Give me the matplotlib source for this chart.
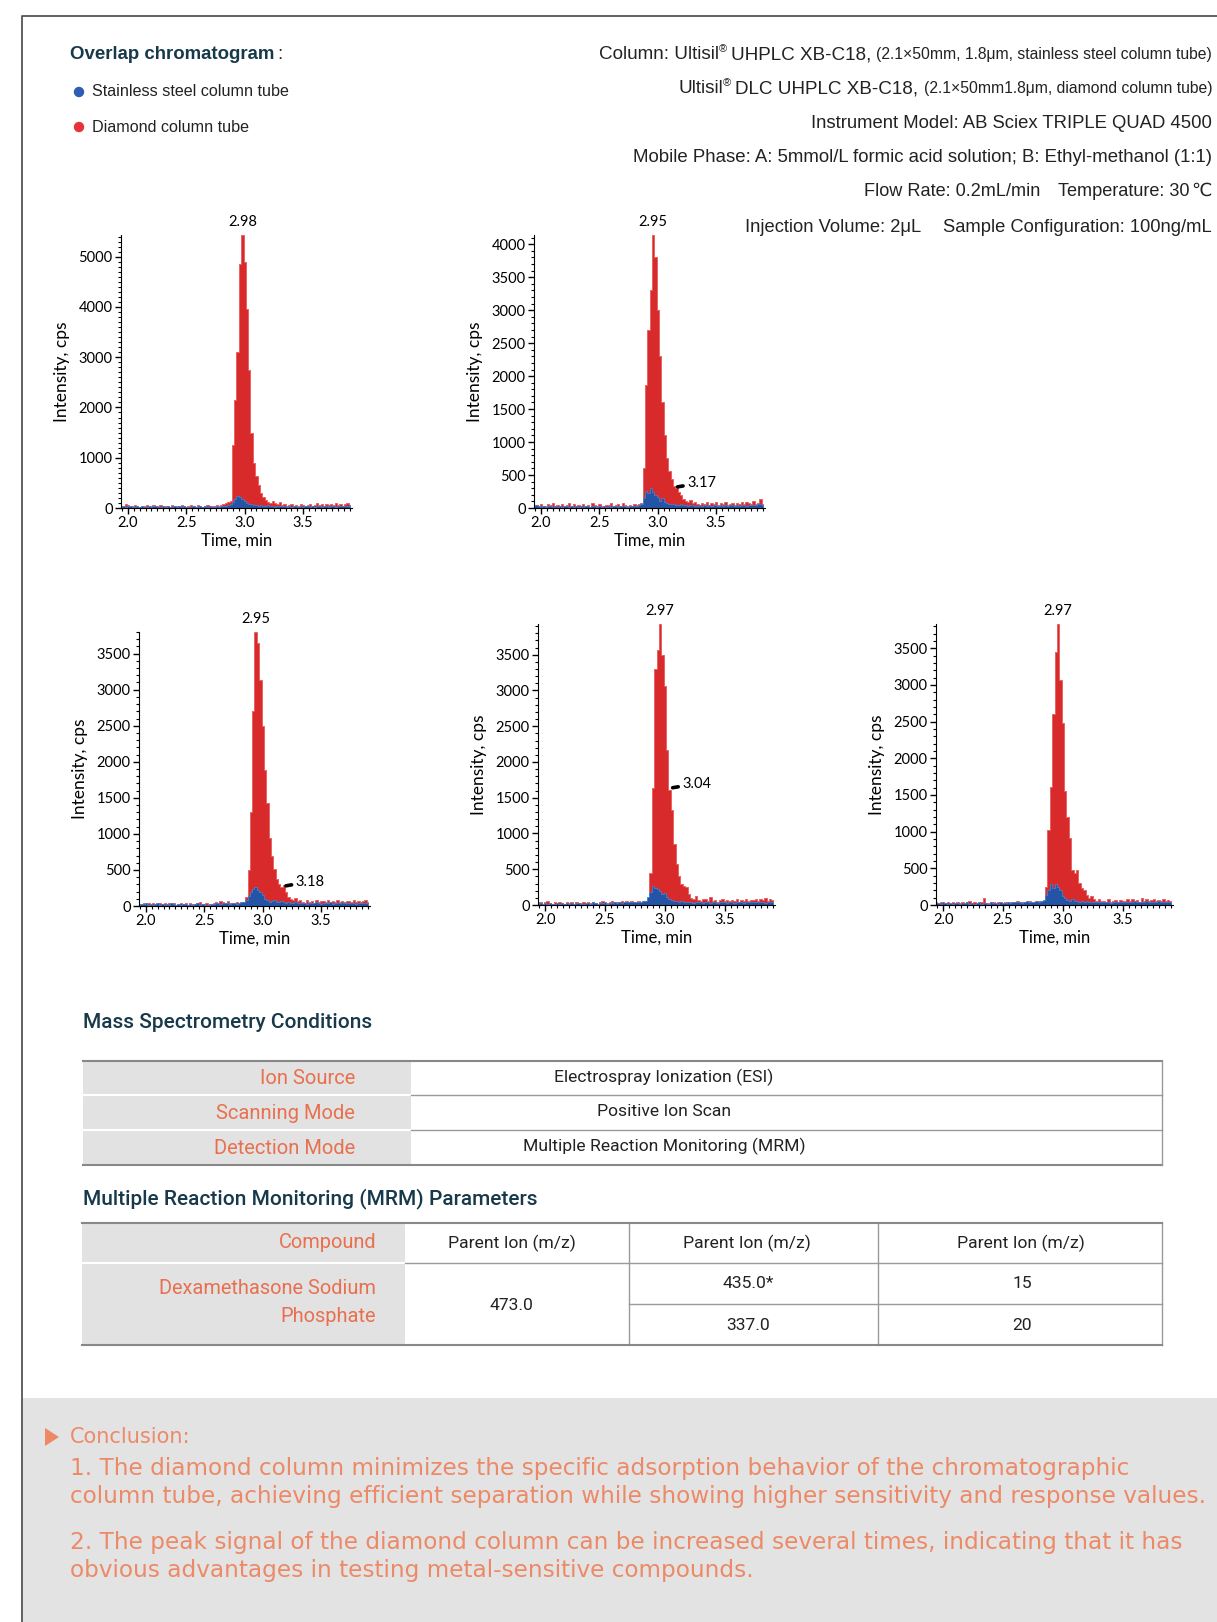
import numpy as np
import matplotlib
matplotlib.use('Agg')
import matplotlib.pyplot as plt
from matplotlib.patches import Rectangle, Circle, Polygon
from matplotlib.ticker import MultipleLocator

W, H = 1217, 1622

# time grid of the chromatograms (min), 0.02 min per scan
t_start, t_step, n_scans = 1.94, 0.02, 99
time_min = np.round(t_start + t_step * np.arange(n_scans), 2)

# ---- chromatogram data (cps) ----
red_1 = [40, 25, 70, 55, 20, 35, 60, 30, 15, 45,
         30, 55, 20, 40, 65, 25, 35, 50, 20, 45,
         35, 20, 55, 30, 45, 25, 60, 35, 20, 40,
         55, 30, 25, 50, 35, 20, 45, 60, 30, 40,
         35, 55, 40, 60, 70, 90, 110, 130, 1250, 2150,
         3100, 4850, 5430, 4900, 3950, 2750, 1500, 900, 640, 450,
         300, 210, 150, 120, 95, 130, 100, 75, 110, 60,
         70, 40, 55, 85, 35, 60, 45, 75, 50, 40,
         65, 80, 45, 55, 90, 50, 70, 40, 85, 60,
         75, 50, 95, 60, 70, 45, 80, 100, 65]
blue_1 = [20, 35, 15, 30, 45, 20, 25, 40, 15, 30,
          25, 15, 35, 20, 30, 40, 15, 25, 35, 20,
          30, 20, 15, 35, 25, 40, 20, 30, 15, 25,
          20, 35, 25, 15, 30, 20, 35, 25, 30, 20,
          25, 30, 20, 35, 40, 45, 55, 80, 120, 180,
          230, 210, 175, 130, 100, 75, 85, 55, 60, 45,
          50, 40, 35, 55, 30, 40, 25, 35, 30, 40,
          30, 20, 35, 25, 30, 40, 20, 35, 25, 30,
          35, 25, 30, 20, 40, 30, 25, 35, 30, 25,
          40, 30, 25, 35, 30, 45, 35, 40, 50]

red_2 = [30, 45, 20, 55, 35, 25, 60, 40, 70, 30,
         50, 25, 65, 35, 40, 75, 30, 55, 25, 45,
         35, 60, 25, 40, 20, 70, 45, 30, 55, 35,
         25, 50, 40, 75, 30, 45, 60, 35, 80, 50,
         30, 45, 25, 60, 40, 55, 80, 600, 1870, 2700,
         3300, 4140, 3800, 3000, 2300, 1600, 1100, 760, 560, 440,
         330, 300, 250, 190, 140, 110, 90, 120, 70, 85,
         65, 40, 80, 55, 95, 45, 70, 60, 85, 50,
         75, 55, 90, 45, 65, 80, 50, 70, 60, 95,
         55, 85, 70, 60, 100, 65, 75, 130, 60]
blue_2 = [25, 40, 30, 20, 35, 15, 30, 25, 20, 35,
          20, 30, 15, 25, 35, 20, 30, 15, 25, 20,
          30, 15, 25, 35, 20, 30, 25, 15, 30, 20,
          25, 20, 30, 15, 35, 25, 20, 30, 25, 35,
          20, 30, 25, 35, 30, 40, 60, 150, 260, 230,
          310, 240, 200, 170, 110, 150, 90, 70, 60, 55,
          65, 50, 45, 60, 40, 50, 35, 45, 40, 30,
          35, 45, 30, 40, 35, 50, 30, 40, 45, 35,
          40, 30, 45, 35, 50, 40, 35, 45, 30, 40,
          45, 35, 40, 50, 45, 40, 55, 60, 50]

red_3 = [30, 20, 45, 25, 35, 15, 40, 30, 20, 35,
         25, 40, 20, 35, 30, 45, 20, 30, 40, 25,
         35, 20, 45, 30, 25, 40, 55, 30, 20, 35,
         25, 20, 45, 60, 30, 70, 50, 40, 65, 35,
         40, 25, 55, 30, 45, 60, 120, 500, 1300, 2700,
         3800, 3650, 3140, 2490, 1890, 1430, 940, 700, 520, 380,
         300, 270, 290, 200, 130, 100, 80, 110, 70, 90,
         60, 45, 80, 55, 70, 40, 85, 50, 65, 75,
         55, 80, 45, 70, 60, 90, 50, 75, 55, 65,
         70, 50, 85, 60, 75, 55, 65, 80, 60]
blue_3 = [20, 30, 25, 35, 20, 30, 15, 25, 35, 20,
          25, 15, 30, 20, 35, 25, 20, 30, 15, 25,
          30, 20, 25, 15, 30, 35, 20, 25, 30, 15,
          20, 30, 25, 35, 40, 30, 45, 35, 40, 30,
          35, 40, 30, 45, 50, 60, 90, 140, 190, 230,
          270, 220, 190, 150, 100, 80, 60, 70, 85, 55,
          60, 75, 50, 45, 55, 40, 35, 50, 40, 45,
          35, 40, 30, 45, 35, 40, 50, 35, 30, 45,
          40, 35, 50, 30, 45, 40, 35, 50, 40, 35,
          45, 35, 40, 30, 45, 40, 35, 45, 40]

red_4 = [25, 40, 20, 35, 60, 30, 20, 45, 25, 35,
         30, 20, 40, 25, 35, 20, 45, 30, 25, 40,
         20, 35, 25, 45, 30, 20, 40, 55, 30, 25,
         35, 50, 30, 45, 40, 55, 35, 50, 45, 60,
         35, 25, 50, 30, 45, 60, 90, 450, 1630, 3300,
         3570, 3930, 3500, 3060, 2170, 1610, 1330, 860, 580, 400,
         300, 260, 250, 150, 100, 80, 120, 70, 60, 90,
         80, 55, 110, 60, 75, 45, 70, 90, 55, 65,
         50, 75, 60, 85, 45, 70, 55, 80, 60, 75,
         65, 90, 55, 80, 70, 95, 60, 85, 70]
blue_4 = [20, 25, 15, 30, 20, 25, 15, 20, 30, 15,
          25, 20, 30, 15, 25, 20, 30, 25, 15, 20,
          30, 25, 20, 35, 25, 20, 30, 25, 35, 20,
          25, 30, 35, 25, 40, 30, 35, 45, 40, 35,
          40, 35, 45, 40, 50, 60, 110, 180, 270, 240,
          220, 200, 150, 170, 110, 90, 75, 60, 55, 45,
          50, 40, 45, 35, 40, 30, 45, 35, 40, 30,
          35, 40, 30, 45, 35, 30, 40, 35, 45, 30,
          40, 35, 30, 45, 35, 40, 30, 35, 40, 45,
          35, 40, 45, 35, 40, 30, 45, 40, 35]

red_5 = [35, 20, 40, 25, 30, 45, 20, 35, 25, 40,
         30, 45, 20, 35, 60, 25, 40, 30, 20, 35,
         95, 30, 25, 45, 35, 20, 40, 30, 25, 45,
         30, 40, 25, 35, 50, 30, 45, 40, 35, 55,
         30, 45, 25, 55, 40, 60, 250, 1020, 1610, 2600,
         3450, 3830, 3070, 2480, 1550, 1200, 910, 480, 430, 480,
         300, 230, 200, 140, 100, 120, 80, 60, 75, 50,
         60, 45, 75, 40, 55, 65, 45, 70, 50, 60,
         75, 50, 85, 55, 70, 45, 90, 60, 75, 55,
         65, 80, 50, 70, 60, 75, 55, 65, 50]
blue_5 = [25, 30, 20, 35, 25, 15, 30, 20, 25, 30,
          20, 30, 25, 40, 20, 30, 15, 25, 35, 20,
          30, 25, 20, 35, 25, 30, 20, 35, 25, 30,
          35, 30, 40, 35, 45, 40, 30, 45, 50, 40,
          45, 40, 50, 45, 55, 70, 130, 200, 280, 230,
          290, 250, 200, 120, 90, 70, 60, 75, 55, 50,
          45, 55, 40, 50, 35, 45, 40, 35, 45, 40,
          35, 45, 40, 30, 45, 35, 40, 45, 35, 40,
          45, 35, 40, 50, 35, 45, 40, 35, 50, 40,
          40, 45, 35, 50, 40, 45, 35, 40, 45]

red_series = [red_1, red_2, red_3, red_4, red_5]
blue_series = [blue_1, blue_2, blue_3, blue_4, blue_5]
peak_labels = ['2.98', '2.95', '2.95', '2.97', '2.97']
y_tops = [5430, 4140, 3800, 3930, 3830]
y_steps = [1000, 500, 500, 500, 500]
# secondary peak labels: (text, time, intensity)
side_labels = [None, ('3.17', 3.17, 320), ('3.18', 3.20, 280), ('3.04', 3.065, 1640), None]

# ---- text content ----
legend_names = ['Stainless steel column tube', 'Diamond column tube']
ms_rows = ['Ion Source', 'Scanning Mode', 'Detection Mode']
ms_values = ['Electrospray Ionization (ESI)', 'Positive Ion Scan', 'Multiple Reaction Monitoring (MRM)']
mrm_header = ['Compound', 'Parent Ion (m/z)', 'Parent Ion (m/z)', 'Parent Ion (m/z)']
mrm_compound = ['Dexamethasone Sodium', 'Phosphate']
mrm_parent = '473.0'
mrm_daughter = ['435.0*', '337.0']
mrm_energy = ['15', '20']
conclusion = ['1. The diamond column minimizes the specific adsorption behavior of the chromatographic',
              'column tube, achieving efficient separation while showing higher sensitivity and response values.',
              '2. The peak signal of the diamond column can be increased several times, indicating that it has',
              'obvious advantages in testing metal-sensitive compounds.']

RED, RED_EDGE = '#d8292b', '#e85a5a'
BLUE, BLUE_EDGE = '#2454a6', '#4a7cc8'
CORAL = '#e8704f'
TEAL = '#17394a'
TXT = '#222222'
HEAD_FONT = ['Liberation Sans', 'DejaVu Sans']
CHART_FONT = 'Lato'
TABLE_FONT = 'Roboto'

fig = plt.figure(figsize=(W / 100, H / 100), dpi=100)
bg = fig.add_axes([0, 0, 1, 1])
bg.set_xlim(0, W)
bg.set_ylim(H, 0)
bg.axis('off')
renderer = fig.canvas.get_renderer()

# frame and conclusion panel
bg.plot([22, 22, W], [H, 16, 16], color='#555555', lw=1.3)
bg.add_patch(Rectangle((23, 1398), W - 23, H - 1398, color='#e3e3e3', lw=0))


def rich_line(x_right, y, pieces):
    # pieces: (text, size, dy, gap after) drawn left to right, right aligned at x_right
    arts = []
    for txt, size, dy, gap in pieces:
        a = bg.text(0, y + dy, txt, fontsize=size, color=TXT, family=HEAD_FONT,
                    ha='left', va='baseline')
        arts.append((a, gap))
    widths = [a.get_window_extent(renderer).width + g for a, g in arts]
    x = x_right - sum(widths)
    for (a, g), w in zip(arts, widths):
        a.set_x(x)
        x += w


# header left
t = bg.text(70, 59, 'Overlap chromatogram', fontsize=13.4, fontweight='bold', color=TEAL,
            family=HEAD_FONT, va='baseline')
w = t.get_window_extent(renderer).width
bg.text(70 + w + 3, 59, ':', fontsize=13.4, color=TXT, family=HEAD_FONT, va='baseline')
for i, (name, col) in enumerate(zip(legend_names, ['#2f5db3', '#e8323a'])):
    yy = 92 + i * 35
    bg.add_patch(Circle((79, yy), 4.5, color=col))
    bg.text(92, yy, name, fontsize=11.6, color=TXT, family=HEAD_FONT, va='center')

# header right
xr = 1212
rich_line(xr, 59, [('Column: Ultisil', 13.6, 0, 0), ('®', 8, -7, 4), ('UHPLC XB-C18,', 13.6, 0, 5),
                   ('(2.1×50mm, 1.8μm, stainless steel column tube)', 11.3, 0, 0)])
rich_line(xr, 93, [('Ultisil', 13.6, 0, 0), ('®', 8, -7, 4), ('DLC UHPLC XB-C18,', 13.6, 0, 5),
                   ('(2.1×50mm1.8μm, diamond column tube)', 11.3, 0, 0)])
rich_line(xr, 128, [('Instrument Model: AB Sciex TRIPLE QUAD 4500', 13.3, 0, 0)])
rich_line(xr, 162, [('Mobile Phase: A: 5mmol/L formic acid solution; B: Ethyl-methanol (1:1)', 13.4, 0, 0)])
rich_line(xr, 196, [('Flow Rate: 0.2mL/min', 13.1, 0, 18), ('Temperature: 30', 13.1, 0, 2), ('℃', 13.1, 0, 0)])
rich_line(xr, 232, [('Injection Volume: 2μL', 13.2, 0, 22), ('Sample Configuration: 100ng/mL', 13.2, 0, 0)])

# ---- chromatograms ----
boxes = [(121, 235, 352, 508), (534, 235, 765, 508), (139, 632, 370, 906),
         (538, 624, 775, 905), (936, 624, 1173, 905)]
for k, (l, tp, r, b) in enumerate(boxes):
    ax = fig.add_axes([l / W, 1 - b / H, (r - l) / W, (b - tp) / H])
    ax.patch.set_alpha(0)
    red = np.array(red_series[k])
    blue = np.array(blue_series[k])
    ax.fill_between(time_min, red, step='mid', facecolor=RED, edgecolor=RED_EDGE, lw=0.6)
    ax.fill_between(time_min, blue, step='mid', facecolor=BLUE, edgecolor=BLUE_EDGE, lw=0.6)
    ax.set_xlim(1.94, 3.92)
    ax.set_ylim(0, y_tops[k])
    for s in ['top', 'right']:
        ax.spines[s].set_visible(False)
    ax.xaxis.set_major_locator(MultipleLocator(0.5))
    ax.xaxis.set_minor_locator(MultipleLocator(0.05))
    ax.yaxis.set_major_locator(MultipleLocator(y_steps[k]))
    ax.yaxis.set_minor_locator(MultipleLocator(100))
    ax.tick_params(which='major', direction='out', length=4, width=1, labelsize=10.5, pad=2)
    ax.tick_params(which='minor', direction='out', length=2.2, width=0.8)
    for lab in ax.get_xticklabels() + ax.get_yticklabels():
        lab.set_family(CHART_FONT)
    ax.set_xlabel('Time, min', fontsize=12, family=CHART_FONT, labelpad=2)
    ax.set_ylabel('Intensity, cps', fontsize=12.5, family=CHART_FONT, labelpad=6)
    ip = int(np.argmax(red))
    ax.annotate(peak_labels[k], xy=(time_min[ip], red[ip]), xytext=(0, 4),
                textcoords='offset points', ha='center', va='bottom', fontsize=10.5,
                family=CHART_FONT, annotation_clip=False)
    if side_labels[k] is not None:
        txt, tx, ty = side_labels[k]
        ax.annotate(txt, xy=(tx, ty), xytext=(7, 3), textcoords='offset points',
                    ha='left', va='center', fontsize=10.5, family=CHART_FONT,
                    arrowprops=dict(arrowstyle='-', lw=2.6, color='black', shrinkA=1, shrinkB=0))

# ---- mass spectrometry conditions table ----
bg.text(83, 1023, 'Mass Spectrometry Conditions', fontsize=15, color=TEAL, family=TABLE_FONT,
        fontweight='medium', va='center')
x0, x1, x2 = 83, 411, 1162
ys = [1061, 1095, 1130, 1165]
bg.add_patch(Rectangle((x0, ys[0]), x1 - x0, ys[-1] - ys[0], color='#e2e2e2', lw=0))
for y in ys[1:-1]:
    bg.plot([x0, x1], [y, y], color='white', lw=1.5)
    bg.plot([x1, x2], [y, y], color='#9a9a9a', lw=1)
bg.plot([x0, x2], [ys[0], ys[0]], color='#888888', lw=1.5)
bg.plot([x0, x2], [ys[-1], ys[-1]], color='#888888', lw=1.5)
bg.plot([x2, x2], [ys[0], ys[-1]], color='#999999', lw=1)
for i, (name, val) in enumerate(zip(ms_rows, ms_values)):
    yc = (ys[i] + ys[i + 1]) / 2
    bg.text(355, yc + 1, name, fontsize=14.5, color=CORAL, family=TABLE_FONT, ha='right', va='center')
    bg.text(664, yc - 1, val, fontsize=12.6, color=TXT, family=TABLE_FONT, ha='center', va='center')

# ---- MRM parameter table ----
bg.text(83, 1199, 'Multiple Reaction Monitoring (MRM) Parameters', fontsize=15, color=TEAL,
        family=TABLE_FONT, fontweight='medium', va='center')
x0, x1, xa, xb, x2 = 82, 405, 629, 878, 1162
y0, y1, y2, y3 = 1223, 1263, 1304, 1345
bg.add_patch(Rectangle((x0, y0), x1 - x0, y3 - y0, color='#e2e2e2', lw=0))
bg.plot([x0, x1], [y1, y1], color='white', lw=1.5)
bg.plot([x1, x2], [y1, y1], color='#9a9a9a', lw=1)
bg.plot([xa, x2], [y2, y2], color='#9a9a9a', lw=1)
for xv in [xa, xb, x2]:
    bg.plot([xv, xv], [y0, y3], color='#9a9a9a', lw=1)
bg.plot([x0, x2], [y0, y0], color='#888888', lw=1.5)
bg.plot([x0, x2], [y3, y3], color='#888888', lw=1.5)
bg.text(376, 1243, mrm_header[0], fontsize=14.4, color=CORAL, family=TABLE_FONT, ha='right', va='center')
for xc, hd in zip([512, 747, 1021], mrm_header[1:]):
    bg.text(xc, 1243, hd, fontsize=12.6, color=TXT, family=TABLE_FONT, ha='center', va='center')
for yc, line in zip([1288, 1317], mrm_compound):
    bg.text(376, yc, line, fontsize=14.4, color=CORAL, family=TABLE_FONT, ha='right', va='center')
bg.text(512, 1305, mrm_parent, fontsize=12.6, color=TXT, family=TABLE_FONT, ha='center', va='center')
for yc, dau, ce in zip([1283, 1326], mrm_daughter, mrm_energy):
    bg.text(748, yc, dau, fontsize=12.6, color=TXT, family=TABLE_FONT, ha='center', va='center')
    bg.text(1022, yc, ce, fontsize=12.6, color=TXT, family=TABLE_FONT, ha='center', va='center')

# ---- conclusion ----
CONC = '#ec8a68'
bg.add_patch(Polygon([[45, 1428], [45, 1446], [59, 1437]], closed=True, color=CONC, lw=0))
bg.text(70, 1437, 'Conclusion:', fontsize=15, color=CONC, family='DejaVu Sans', va='center')
for yc, line in zip([1468, 1497, 1542, 1571], conclusion):
    bg.text(70, yc, line, fontsize=16.7, color=CONC, family='DejaVu Sans', va='center')

fig.savefig('out.png', dpi=100)
